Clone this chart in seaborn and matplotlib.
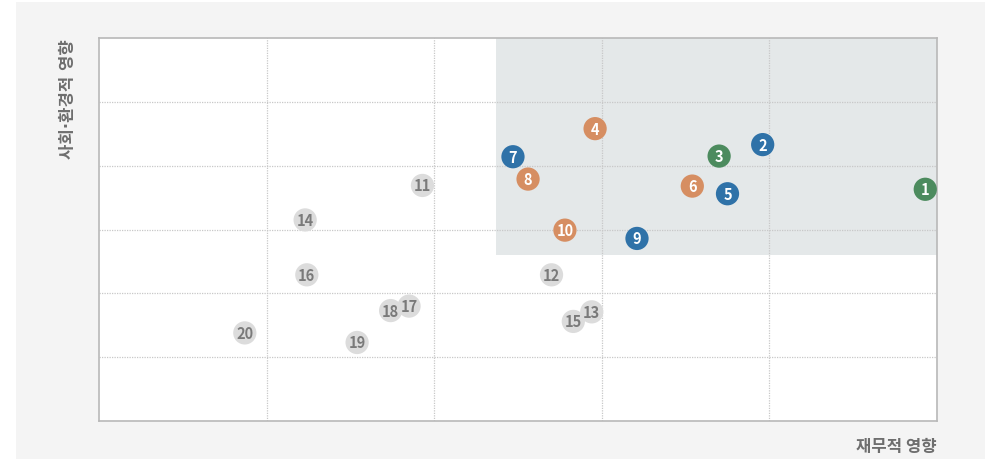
import numpy as np
import pandas as pd
import matplotlib
matplotlib.use("Agg")
import matplotlib.pyplot as plt
from matplotlib.patches import Rectangle
import seaborn as sns

# issue numbers, positions (financial, social/environmental) and group
labels = [str(i) for i in range(1, 21)]
financial = [4.93, 3.96, 3.70, 2.96, 3.75, 3.54, 2.47, 2.56, 3.21, 2.78,
             1.93, 2.70, 2.94, 1.23, 2.83, 1.24, 1.85, 1.74, 1.54, 0.87]
social = [3.63, 4.33, 4.15, 4.58, 3.56, 3.68, 4.14, 3.79, 2.86, 2.99,
          3.69, 2.29, 1.71, 3.15, 1.56, 2.29, 1.80, 1.73, 1.23, 1.38]
group = ["green", "blue", "green", "orange", "blue", "orange", "blue", "orange", "blue", "orange",
         "grey", "grey", "grey", "grey", "grey", "grey", "grey", "grey", "grey", "grey"]

palette = {"blue": "#2f72a8", "green": "#4c8b5e", "orange": "#d68e62", "grey": "#dcdcdc"}
textColors = {"blue": "white", "green": "white", "orange": "white", "grey": "#7a7a7a"}

# highlighted material area (x from, y from)
areaX0 = 2.37
areaY0 = 2.60

df = pd.DataFrame({"label": labels, "x": financial, "y": social, "group": group})
df = df.iloc[::-1].reset_index(drop=True)

sns.set_style("white")
plt.rcParams['font.family'] = ['Noto Sans CJK KR', 'DejaVu Sans']

fig = plt.figure(figsize=(9.85, 4.60), dpi=100)
fig.patch.set_facecolor("white")
bg = Rectangle((16 / 985, 0), 969 / 985, 457 / 460, transform=fig.transFigure,
               facecolor="#f4f4f4", edgecolor="none", zorder=-10)
fig.patches.append(bg)

ax = fig.add_axes([99 / 985, 38 / 460, 838 / 985, 383 / 460])
ax.set_zorder(1)
ax.set_facecolor("white")
ax.set_xlim(0, 5)
ax.set_ylim(0, 6)
ax.set_xticks([1, 2, 3, 4])
ax.set_yticks([1, 2, 3, 4, 5])
ax.tick_params(length=0, labelbottom=False, labelleft=False)
ax.grid(True, color="#c8c8c8", linestyle=(0, (1, 1)), linewidth=0.9)
ax.set_axisbelow(True)
for s in ax.spines.values():
    s.set_color("#b8b8b8")
    s.set_linewidth(1.2)

ax.add_patch(Rectangle((areaX0, areaY0), 5 - areaX0, 6 - areaY0,
                       facecolor="#e4e8e9", edgecolor="none", zorder=0.5))

sns.scatterplot(data=df, x="x", y="y", hue="group", palette=palette, s=280,
                edgecolor="none", legend=False, ax=ax, zorder=3, clip_on=False)

for _, r in df.iterrows():
    ax.text(r["x"], r["y"], r["label"], ha="center", va="center", fontsize=10.5,
            fontweight="bold", color=textColors[r["group"]], zorder=4)

ax.set_xlabel("")
ax.set_ylabel("")
ax.text(-0.037, 1.0, "사회·환경적 영향", rotation=90, ha="center", va="top",
        transform=ax.transAxes, fontsize=12, fontweight="bold", color="#6e6e6e",
        family=['DejaVu Sans', 'Noto Sans CJK KR'])
ax.text(1.0, -0.065, "재무적 영향", ha="right", va="center",
        transform=ax.transAxes, fontsize=12, fontweight="bold", color="#6e6e6e")

fig.savefig("out.png", dpi=100)
